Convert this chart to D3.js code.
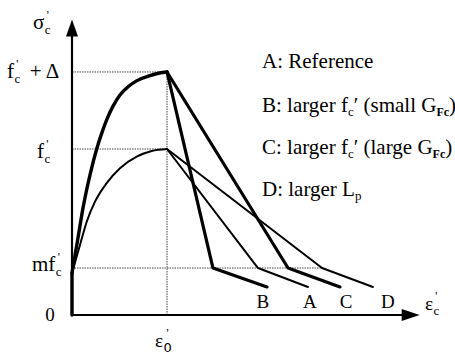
<!DOCTYPE html>
<html>
<head>
<meta charset="utf-8">
<script src="https://cdn.jsdelivr.net/npm/d3@7"></script>
<style>
  body { margin: 0; background: #fff; }
  svg { display: block; }
  text { font-family: "Liberation Serif", "Times New Roman", serif; fill: #000; }
</style>
</head>
<body>
<svg id="chart" width="455" height="354"></svg>
<script>
// Strain in units of ε'0, stress in units of f'c
const peakStrain = 1.0;
const peakStressLarge = 1.464;   // f'c + Δ
const peakStressRef = 1.0;       // f'c
const knotStress = 0.283;        // m f'c
const curveStart = 0.253;

// Ascending branches (pre-peak)
const ascentLarge = [[0, 0.253], [0.063, 0.464], [0.116, 0.645], [0.189, 0.843], [0.263, 1.006],
                     [0.316, 1.100], [0.368, 1.180], [0.432, 1.258], [0.505, 1.325], [0.590, 1.375],
                     [0.684, 1.412], [0.821, 1.442], [0.920, 1.458], [1, 1.464]];
const ascentRef = [[0, 0.253], [0.084, 0.422], [0.155, 0.562], [0.242, 0.683], [0.365, 0.794],
                   [0.505, 0.884], [0.681, 0.954], [0.839, 0.988], [1, 1.0]];

// Softening branches (post-peak): peak, knee at m f'c, end
const softA = [[1, 1.0], [1.958, 0.283], [2.484, 0.169]];
const softB = [[1, 1.464], [1.484, 0.283], [2.053, 0.169]];
const softC = [[1, 1.464], [2.274, 0.283], [2.821, 0.169]];
const softD = [[1, 1.0], [2.632, 0.283], [3.168, 0.169]];

const branchNames = ["B", "A", "C", "D"];
const branchLabelStrain = [2.01, 2.505, 2.884, 3.326];

const legendKeys = ["A", "B", "C", "D"];
const legendText = [
  [["A: Reference"]],
  [["B: larger f"], ["c", "sub"], ["′", "up"], [" (small G"], ["Fc", "subB"], [")"]],
  [["C: larger f"], ["c", "sub"], ["′", "up"], [" (large G"], ["Fc", "subB"], [")"]],
  [["D: larger L"], ["p", "sub"]]
];

const xMaxAxis = 3.66;
const yMaxAxis = 1.78;

const svg = d3.select("#chart");
const x = d3.scaleLinear().domain([0, 1]).range([72, 167]);
const y = d3.scaleLinear().domain([0, 1]).range([315, 149]);

// Dotted guide lines
const guides = [
  [[0, peakStressLarge], [peakStrain, peakStressLarge]],
  [[0, peakStressRef], [peakStrain, peakStressRef]],
  [[peakStrain, 0], [peakStrain, peakStressLarge]],
  [[0, knotStress], [softD[1][0], knotStress]]
];
const straight = d3.line().x(d => x(d[0])).y(d => y(d[1]));
svg.append("g").selectAll("path").data(guides).join("path")
  .attr("d", straight)
  .attr("fill", "none")
  .attr("stroke", "#444")
  .attr("stroke-width", 1)
  .attr("stroke-dasharray", "1.5,1");

// Axes with arrowheads
const axisG = svg.append("g");
axisG.append("path").attr("d", straight([[0, 0], [0, yMaxAxis - 0.09]]))
  .attr("stroke", "#000").attr("stroke-width", 2.2).attr("fill", "none");
axisG.append("path").attr("d", straight([[0, 0], [xMaxAxis - 0.18, 0]]))
  .attr("stroke", "#000").attr("stroke-width", 2.2).attr("fill", "none");
{
  const tx = x(0), ty = y(yMaxAxis);
  axisG.append("path").attr("d", `M${tx},${ty} L${tx - 6},${ty + 17} L${tx + 6},${ty + 17} Z`).attr("fill", "#000");
  const ax = x(xMaxAxis), ay = y(0);
  axisG.append("path").attr("d", `M${ax},${ay} L${ax - 18},${ay - 6} L${ax - 18},${ay + 6} Z`).attr("fill", "#000");
}

// Curves
const smooth = d3.line().x(d => x(d[0])).y(d => y(d[1])).curve(d3.curveMonotoneX);
const curves = svg.append("g").attr("fill", "none").attr("stroke", "#000")
  .attr("stroke-linejoin", "round").attr("stroke-linecap", "round");
curves.append("path").attr("d", straight([[0, 0], [0, curveStart]])).attr("stroke-width", 3.4);
curves.append("path").attr("d", smooth(ascentLarge)).attr("stroke-width", 3.4);
curves.append("path").attr("d", smooth(ascentRef)).attr("stroke-width", 2);
curves.append("path").attr("d", straight(softB)).attr("stroke-width", 3.2);
curves.append("path").attr("d", straight(softC)).attr("stroke-width", 3.2);
curves.append("path").attr("d", straight(softA)).attr("stroke-width", 2);
curves.append("path").attr("d", straight(softD)).attr("stroke-width", 2);

// Branch letters
svg.append("g").selectAll("text").data(branchNames).join("text")
  .attr("x", (d, i) => x(branchLabelStrain[i]))
  .attr("y", 308)
  .attr("text-anchor", "middle")
  .attr("font-size", 19)
  .text(d => d);

// Symbol with subscript and prime: main, sub, optional tail
function symbol(px, py, main, sub, tail, size, subFont) {
  const g = svg.append("g");
  const t = g.append("text").attr("x", px).attr("y", py).attr("font-size", size).text(main);
  const w = t.node().getComputedTextLength();
  const s = g.append("text").attr("x", px + w + 0.5).attr("y", py + 5)
    .attr("font-size", 13).text(sub);
  if (subFont) s.style("font-family", subFont);
  const sw = s.node().getComputedTextLength();
  g.append("text").attr("x", px + w + sw / 2 + 0.5).attr("y", py - 10)
    .attr("font-size", 12).attr("text-anchor", "middle").text("'");
  if (tail) g.append("text").attr("x", px + w + sw + 10).attr("y", py)
    .attr("font-size", size).attr("xml:space", "preserve").text(tail);
  return g;
}

symbol(33, 29, "σ", "c", null, 21);
symbol(7, 78, "f", "c", "+ Δ", 21);
symbol(37, 158, "f", "c", null, 21);
symbol(32, 271, "mf", "c", null, 21);
svg.append("text").attr("x", 50).attr("y", 321).attr("font-size", 19)
  .attr("text-anchor", "middle").text("0");
symbol(155, 347, "ε", "0", null, 19, "DejaVu Sans");
symbol(425, 310, "ε", "c", null, 19);

// Legend
const legend = svg.append("g").attr("font-size", 21);
const legendY = [68, 112, 154, 196];
legendKeys.forEach((k, i) => {
  const t = legend.append("text").attr("x", 262).attr("y", legendY[i]);
  let shift = 0;
  legendText[i].forEach(([str, kind]) => {
    const sp = t.append("tspan").text(str);
    let target = 0;
    if (kind === "sub" || kind === "subB") target = 4;
    const dy = target - shift;
    if (dy !== 0) sp.attr("dy", dy);
    shift = target;
    if (kind === "sub") sp.attr("font-size", 13);
    if (kind === "subB") sp.attr("font-size", 12).attr("font-weight", "bold");
  });
});
</script>
</body>
</html>
